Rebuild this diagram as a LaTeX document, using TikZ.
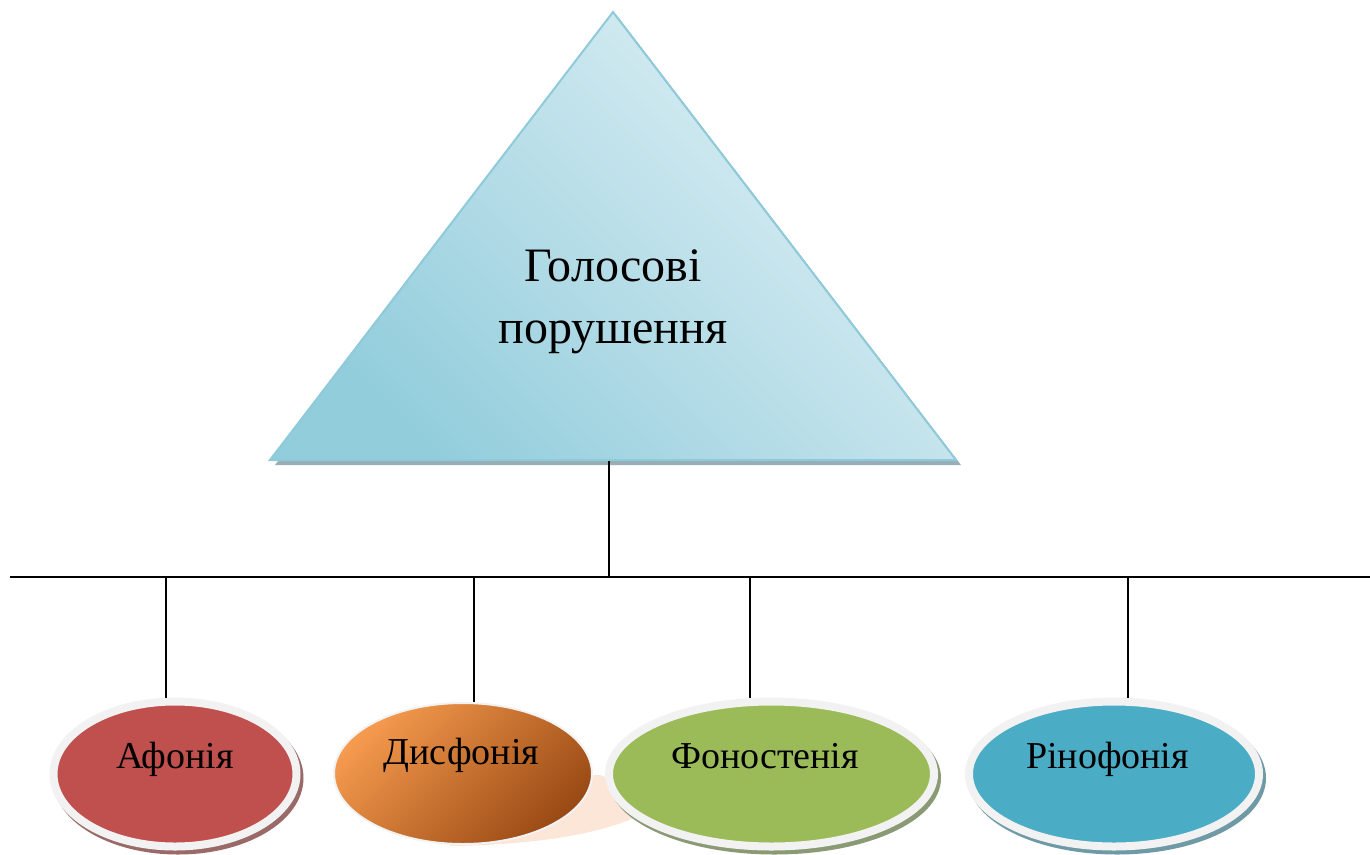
\documentclass[tikz,border=0pt]{standalone}
\usepackage{fontspec}
\setmainfont{Liberation Serif}
\usetikzlibrary{shapes.geometric,shadows}
\definecolor{triDark}{HTML}{92CDDC}
\definecolor{triLight}{HTML}{E0F0F5}
\definecolor{triEdge}{HTML}{8FCADA}
\definecolor{triShadow}{HTML}{98AEB6}
\definecolor{ringc}{HTML}{F2F2F2}
\definecolor{redF}{HTML}{C0504D}
\definecolor{redS}{HTML}{9A6A69}
\definecolor{greenF}{HTML}{9BBB59}
\definecolor{greenS}{HTML}{8A9A74}
\definecolor{blueF}{HTML}{4BACC6}
\definecolor{blueS}{HTML}{6E9AA6}
\definecolor{orangeL}{HTML}{F59A4E}
\definecolor{orangeD}{HTML}{9A4A14}
\definecolor{peach}{HTML}{FCE6D8}
\begin{document}
\begin{tikzpicture}[x=1pt,y=-1pt,
  bus/.style={line width=1.5pt,black},
  ringell/.style={ellipse, draw=ringc, line width=8pt, inner sep=0pt,
    fill=#1, minimum height=145pt},
  elabel/.style={font=\fontsize{38}{44}\selectfont, anchor=base, inner sep=0pt}]
\useasboundingbox (0,0) rectangle (1370,854);
% triangle
\coordinate (apex) at (613,12);
\coordinate (bl) at (270,460);
\coordinate (br) at (956,460);
\fill[triShadow] ([xshift=5pt,yshift=-5pt]bl) -- ([xshift=5pt,yshift=-5pt]br) -- ([xshift=5pt,yshift=-5pt]apex) -- cycle;
\shade[top color=triLight, bottom color=triDark, shading angle=-45, draw=triEdge, line width=2pt, line join=miter]
  (bl) -- (br) -- (apex) -- cycle;
\node[align=center, font=\fontsize{48}{62}\selectfont] (top) at (613,302) {Голосові\\порушення};
% peach reflection
\fill[peach] (520,775) -- (600,775) -- (640,790) -- (640,815)
  .. controls (600,835) and (530,845) .. (450,846) -- cycle;
% ellipses
\node[ringell=redF, minimum width=243pt,
  drop shadow={shadow xshift=3pt, shadow yshift=-4pt, opacity=1, fill=redS, draw=redS, line width=8pt}] (e1) at (175,774) {};
\node[ellipse, draw=ringc, line width=2pt, inner sep=0pt, minimum width=258pt, minimum height=141pt,
  top color=orangeL, bottom color=orangeD, shading angle=45] (e2) at (463,773.5) {};
\node[ringell=greenF, minimum width=325pt,
  drop shadow={shadow xshift=3pt, shadow yshift=-4pt, opacity=1, fill=greenS, draw=greenS, line width=8pt}] (e3) at (771.5,774) {};
\node[ringell=blueF, minimum width=290pt,
  drop shadow={shadow xshift=3pt, shadow yshift=-4pt, opacity=1, fill=blueS, draw=blueS, line width=8pt}] (e4) at (1114,774) {};
\node[elabel] (t1) at (175,768) {Афонія};
\node[elabel] (t2) at (461.5,764) {Дисфонія};
\node[elabel] (t3) at (765,768) {Фоностенія};
\node[elabel] (t4) at (1107.5,768) {Рінофонія};
% connectors
\coordinate (tb) at (609,461);
\coordinate (busL) at (10,577);
\coordinate (busR) at (1370,577);
\coordinate (bc) at (609,577);
\coordinate (b1) at (166,577);
\coordinate (b2) at (474,577);
\coordinate (b3) at (750,577);
\coordinate (b4) at (1128,577);
\draw[bus] (busL) -- (busR);
\draw[bus] (tb) -- (bc);
\draw[bus] (b1) -- (b1 |- e1.north);
\draw[bus] (b2) -- (b2 |- e2.north);
\draw[bus] (b3) -- (b3 |- e3.north);
\draw[bus] (b4) -- (b4 |- e4.north);
\end{tikzpicture}
\end{document}
